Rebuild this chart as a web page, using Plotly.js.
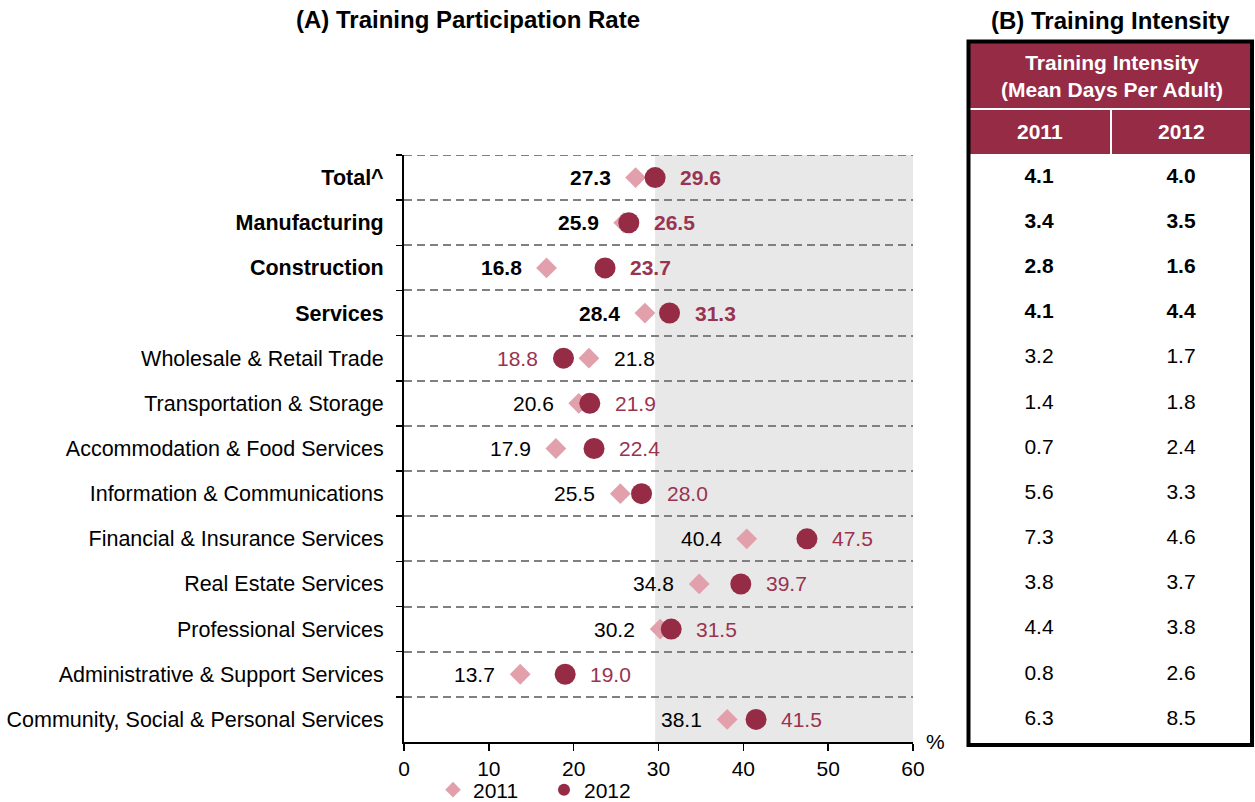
<!DOCTYPE html>
<html>
<head>
<meta charset="utf-8">
<script src="https://cdn.plot.ly/plotly-3.0.1.min.js"></script>
<style>html,body{margin:0;padding:0;background:#fff;overflow:hidden;}#chart{width:1255px;height:802px;}</style>
</head>
<body>
<div id="chart"></div>
<script>
// ---- Data ----
const categories = [
  "Total^", "Manufacturing", "Construction", "Services",
  "Wholesale & Retail Trade", "Transportation & Storage",
  "Accommodation & Food Services", "Information & Communications",
  "Financial & Insurance Services", "Real Estate Services",
  "Professional Services", "Administrative & Support Services",
  "Community, Social & Personal Services"
];
const boldRowCount = 4;
const participation2011 = [27.3, 25.9, 16.8, 28.4, 21.8, 20.6, 17.9, 25.5, 40.4, 34.8, 30.2, 13.7, 38.1];
const participation2012 = [29.6, 26.5, 23.7, 31.3, 18.8, 21.9, 22.4, 28.0, 47.5, 39.7, 31.5, 19.0, 41.5];
const intensity2011 = [4.1, 3.4, 2.8, 4.1, 3.2, 1.4, 0.7, 5.6, 7.3, 3.8, 4.4, 0.8, 6.3];
const intensity2012 = [4.0, 3.5, 1.6, 4.4, 1.7, 1.8, 2.4, 3.3, 4.6, 3.7, 3.8, 2.6, 8.5];
const seriesNames = ["2011", "2012"];
const xTicks = [0, 10, 20, 30, 40, 50, 60];

// ---- Styling ----
const W = 1255, H = 802;
const FONT = "Liberation Sans, Arial, sans-serif";
const FS = 21;
const TITLE_FS = 24;
const PINK = "#E2A0AD";
const MAROON = "#952B45";
const LABEL_MAROON = "#9A3350";
const GRID = "#808080";
const px = v => v / W;
const py = v => 1 - v / H;

const isBold = i => i < boldRowCount;
const b = (s, i) => isBold(i) ? "<b>" + s + "</b>" : s;
const yLabels = categories.map((c, i) => b(c, i));

const traces = [
  {
    type: "scatter", mode: "markers", name: seriesNames[0],
    x: participation2011, y: yLabels, xaxis: "x", yaxis: "y",
    marker: {symbol: "diamond", size: 16, color: PINK},
    hoverinfo: "x+y"
  },
  {
    type: "scatter", mode: "markers", name: seriesNames[1],
    x: participation2012, y: yLabels, xaxis: "x", yaxis: "y",
    marker: {symbol: "circle", size: 21, color: MAROON},
    hoverinfo: "x+y"
  },
  {
    type: "scatter", mode: "text", showlegend: false, hoverinfo: "skip",
    x: categories.map(() => 0.5), y: yLabels, xaxis: "x2", yaxis: "y2",
    text: intensity2011.map((v, i) => b(v.toFixed(1), i)),
    textfont: {family: FONT, size: FS, color: "#000"}
  },
  {
    type: "scatter", mode: "text", showlegend: false, hoverinfo: "skip",
    x: categories.map(() => 1.5), y: yLabels, xaxis: "x2", yaxis: "y2",
    text: intensity2012.map((v, i) => b(v.toFixed(1), i)),
    textfont: {family: FONT, size: FS, color: "#000"}
  }
];

// value labels: lower value to the left, higher value to the right
const annotations = [];
categories.forEach((c, i) => {
  const a = participation2011[i], m = participation2012[i];
  const lowA = a <= m;
  annotations.push({
    x: a, y: yLabels[i], xref: "x", yref: "y", showarrow: false,
    text: b(a.toFixed(1), i), xanchor: lowA ? "right" : "left", xshift: lowA ? -23 : 23,
    yanchor: "middle", font: {family: FONT, size: FS, color: "#000"}
  });
  annotations.push({
    x: m, y: yLabels[i], xref: "x", yref: "y", showarrow: false,
    text: b(m.toFixed(1), i), xanchor: lowA ? "left" : "right", xshift: lowA ? 23 : -23,
    yanchor: "middle", font: {family: FONT, size: FS, color: LABEL_MAROON}
  });
});

const paperText = (x, y, text, size, color) => ({
  x: px(x), y: py(y), xref: "paper", yref: "paper", showarrow: false,
  xanchor: "center", yanchor: "middle", text: text,
  font: {family: FONT, size: size, color: color}
});
annotations.push(
  paperText(935, 741, "%", FS, "#000"),
  paperText(1110, 20, "<b>(B) Training Intensity</b>", TITLE_FS, "#000"),
  paperText(1112, 76, "<b>Training Intensity<br>(Mean Days Per Adult)</b>", FS, "#fff"),
  paperText(1040, 131, "<b>" + seriesNames[0] + "</b>", FS, "#fff"),
  paperText(1181, 131, "<b>" + seriesNames[1] + "</b>", FS, "#fff")
);

const shapes = [
  // shaded region starting at the total 2012 rate
  {type: "rect", xref: "x", yref: "paper", x0: participation2012[0], x1: 60,
   y0: py(742), y1: py(155), fillcolor: "#E8E8E8", line: {width: 0}, layer: "below"},
  // top separator
  {type: "line", xref: "x", yref: "y", x0: 0, x1: 60, y0: -0.5, y1: -0.5,
   line: {color: GRID, width: 2, dash: "8px,5px"}},
  // table header
  {type: "rect", xref: "paper", yref: "paper", x0: px(968), x1: px(1252), y0: py(154), y1: py(41),
   fillcolor: MAROON, line: {width: 0}},
  {type: "line", xref: "paper", yref: "paper", x0: px(968), x1: px(1252), y0: py(109), y1: py(109),
   line: {color: "#fff", width: 2}},
  {type: "line", xref: "paper", yref: "paper", x0: px(1111), x1: px(1111), y0: py(109), y1: py(154),
   line: {color: "#fff", width: 2}},
  // table border
  {type: "rect", xref: "paper", yref: "paper", x0: px(968.5), x1: px(1252), y0: py(745), y1: py(41.5),
   line: {color: "#000", width: 4}, fillcolor: "rgba(0,0,0,0)"}
];

const layout = {
  width: W, height: H,
  margin: {l: 0, r: 0, t: 0, b: 0, autoexpand: false},
  paper_bgcolor: "#fff", plot_bgcolor: "rgba(0,0,0,0)",
  font: {family: FONT, size: FS, color: "#000"},
  title: {text: "<b>(A) Training Participation Rate</b>", x: px(468), xanchor: "center",
          y: py(20), yanchor: "middle", xref: "paper", yref: "paper",
          font: {family: FONT, size: TITLE_FS, color: "#000"}},
  xaxis: {
    domain: [px(404), px(913)], range: [0, 60], tickvals: xTicks,
    ticks: "outside", ticklen: 7, tickwidth: 1.5, tickcolor: "#000",
    showline: true, linecolor: "#000", linewidth: 2, showgrid: false, zeroline: false,
    tickfont: {family: FONT, size: FS, color: "#000"}, anchor: "y", fixedrange: true
  },
  yaxis: {
    domain: [1 - 742 / H, 1 - 155 / H], type: "category",
    categoryorder: "array", categoryarray: yLabels, range: [categories.length - 0.5, -0.5],
    tickson: "boundaries", ticks: "outside", ticklen: 6, tickwidth: 1.5, tickcolor: "#000",
    showline: true, linecolor: "#000", linewidth: 2,
    showgrid: true, gridcolor: GRID, griddash: "8px,5px", gridwidth: 2,
    ticklabelstandoff: 14, tickfont: {family: FONT, size: 21.5, color: "#000"},
    anchor: "x", fixedrange: true, zeroline: false
  },
  xaxis2: {domain: [px(968), px(1252)], range: [0, 2], visible: false, anchor: "y2", fixedrange: true},
  yaxis2: {
    domain: [1 - 742 / H, 1 - 155 / H], type: "category",
    categoryorder: "array", categoryarray: yLabels, range: [categories.length - 0.5, -0.5],
    visible: false, anchor: "x2", fixedrange: true
  },
  showlegend: true,
  legend: {orientation: "h", x: px(433), xanchor: "left", y: py(790), yanchor: "middle",
           font: {family: FONT, size: FS, color: "#000"}, itemwidth: 30, itemsizing: "constant",
           entrywidth: 66, bgcolor: "rgba(0,0,0,0)", itemclick: false, itemdoubleclick: false},
  shapes: shapes,
  annotations: annotations
};

Plotly.newPlot("chart", traces, layout, {displayModeBar: false, staticPlot: true});
</script>
</body>
</html>
